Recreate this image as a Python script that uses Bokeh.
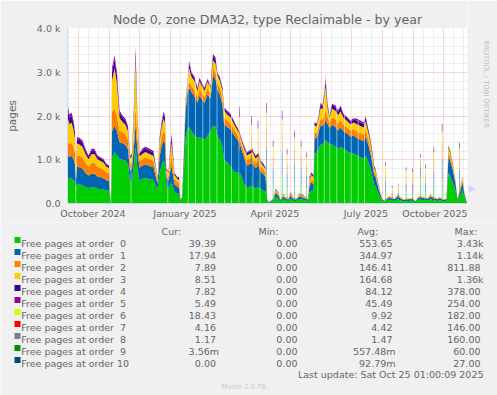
import datetime as dt
from math import pi
from bokeh.plotting import figure
from bokeh.layouts import column, row
from bokeh.models import ColumnDataSource, Range1d, FixedTicker, Label
from bokeh.embed import file_html
from bokeh.resources import INLINE

# ---------------- data ----------------
# sample positions: days after the start of the 400-day window
days = [0, 2, 4, 6, 7.5, 8.5, 9.5, 12, 15, 18, 21, 24, 27, 30, 33, 36, 39, 41.5, 42.5, 43.5,
        44.5, 47, 49.5, 52, 55, 58, 60.5, 62.5, 64.5, 66.5, 68, 70, 72, 75, 78, 82, 86, 88, 90, 92,
        94, 96, 97.5, 99, 101, 104, 107, 110, 111.5, 113, 114.5, 116.5, 118, 120, 121.5, 124, 127, 130, 132, 134,
        137, 140, 143, 145.5, 148, 150, 152.5, 155, 156.5, 159.5, 163, 165.5, 168, 171.5, 173, 176.5, 179.5, 182, 185, 188,
        191, 193, 196, 198, 199.5, 201, 203, 206, 208, 211, 213, 216, 218, 221, 223, 226, 229, 232, 235, 238,
        240.5, 242, 244, 246, 247, 249, 251, 253, 255, 257, 258, 260, 262, 264.5, 268, 270.5, 273, 276, 279.5, 283,
        286, 289.5, 293, 296, 298, 300, 301.5, 303, 305, 306.5, 308, 310, 311.5, 313, 315, 317, 321, 324, 327, 330,
        333, 336, 340, 345, 348, 351, 356, 360, 363, 366, 370, 372, 376, 379, 381, 383, 385.5, 388, 390, 393,
        395, 397, 399, 400]

order0 = [600, 560, 580, 540, 480, 300, 450, 440, 420, 380, 350, 380, 370, 340, 330, 320, 300, 300, 100, 200,
          1050, 1170, 1100, 1020, 1000, 980, 900, 500, 550, 900, 1300, 800, 520, 565, 580, 560, 540, 420, 320, 700,
          850, 980, 930, 370, 350, 500, 260, 230, 220, 60, 100, 800, 1500, 1700, 1750, 1650, 1550, 1500, 1520, 1500,
          1450, 1550, 1650, 1780, 1750, 1550, 1450, 1300, 1000, 950, 850, 750, 720, 700, 680, 450, 350, 380, 400, 350,
          380, 330, 300, 280, 60, 25, 35, 60, 150, 110, 50, 100, 70, 60, 110, 60, 60, 100, 90, 70,
          60, 250, 300, 280, 1150, 1150, 1250, 1350, 1350, 1400, 1450, 1400, 1350, 1350, 1300, 1250, 1300, 1250, 1200, 1150,
          1150, 1100, 1050, 1030, 1100, 1000, 900, 800, 600, 430, 400, 280, 200, 130, 60, 40, 90, 70, 60, 100,
          70, 50, 60, 65, 30, 90, 75, 65, 100, 75, 60, 75, 50, 65, 700, 600, 450, 300, 60, 200,
          300, 130, 30, 20]
order1 = [530, 500, 510, 470, 420, 250, 400, 390, 380, 320, 290, 300, 310, 280, 270, 260, 230, 220, 30, 60,
          600, 610, 550, 380, 380, 360, 340, 250, 260, 400, 500, 400, 300, 305, 310, 300, 290, 220, 140, 350,
          450, 460, 440, 200, 190, 350, 180, 150, 140, 20, 40, 350, 600, 850, 900, 900, 900, 800, 950, 900,
          850, 950, 750, 1140, 1100, 1050, 1030, 950, 830, 800, 850, 850, 800, 700, 640, 600, 520, 520, 520, 460,
          480, 400, 370, 330, 40, 10, 15, 30, 90, 70, 30, 60, 40, 30, 70, 35, 30, 60, 50, 40,
          30, 150, 180, 160, 350, 340, 380, 430, 420, 450, 450, 420, 380, 450, 450, 420, 440, 400, 400, 380,
          400, 400, 410, 400, 430, 400, 380, 340, 300, 230, 210, 150, 110, 70, 30, 20, 50, 45, 35, 60,
          45, 30, 35, 40, 20, 50, 45, 40, 60, 45, 35, 45, 30, 40, 400, 350, 300, 150, 35, 100,
          180, 70, 15, 10]
order2 = [310, 300, 300, 280, 260, 150, 250, 260, 250, 230, 200, 250, 250, 220, 210, 200, 180, 170, 10, 20,
          450, 390, 350, 260, 260, 250, 220, 150, 150, 300, 400, 300, 150, 150, 160, 150, 140, 120, 70, 180,
          220, 230, 220, 100, 95, 250, 120, 110, 100, 0, 10, 100, 100, 100, 150, 130, 150, 120, 150, 140,
          130, 140, 120, 150, 150, 150, 150, 150, 150, 150, 140, 130, 120, 110, 100, 110, 120, 130, 130, 120,
          120, 110, 100, 100, 20, 5, 5, 15, 40, 30, 10, 25, 20, 15, 30, 15, 15, 30, 25, 20,
          15, 70, 80, 70, 120, 120, 130, 150, 150, 200, 230, 160, 110, 170, 170, 160, 170, 150, 140, 140,
          150, 150, 150, 150, 160, 140, 130, 120, 100, 80, 70, 50, 40, 25, 10, 5, 20, 15, 15, 20,
          15, 10, 15, 15, 5, 20, 15, 15, 20, 15, 15, 15, 10, 15, 80, 100, 70, 40, 15, 50,
          60, 25, 5, 0]
order3 = [540, 450, 460, 400, 320, 150, 270, 260, 250, 200, 170, 200, 200, 170, 160, 160, 130, 120, 10, 20,
          700, 920, 750, 300, 230, 210, 200, 130, 120, 500, 1100, 380, 110, 115, 130, 120, 120, 80, 45, 170,
          220, 270, 260, 80, 75, 300, 90, 70, 80, 0, 10, 100, 100, 100, 300, 220, 200, 150, 180, 160,
          150, 150, 120, 200, 200, 170, 170, 170, 150, 140, 130, 130, 110, 100, 90, 100, 110, 110, 120, 105,
          105, 95, 90, 80, 20, 0, 5, 10, 35, 25, 10, 20, 15, 10, 30, 15, 10, 25, 20, 15,
          10, 80, 100, 90, 170, 150, 170, 250, 240, 400, 550, 220, 110, 200, 200, 190, 200, 160, 150, 140,
          150, 160, 160, 160, 190, 160, 140, 120, 100, 80, 70, 50, 40, 25, 10, 5, 15, 15, 10, 15,
          15, 10, 10, 10, 5, 15, 10, 10, 15, 10, 10, 10, 10, 10, 80, 80, 50, 30, 10, 30,
          40, 20, 0, 0]
order4 = [180, 150, 160, 150, 120, 60, 100, 100, 95, 80, 60, 80, 80, 60, 60, 55, 50, 40, 0, 0,
          200, 200, 170, 110, 95, 90, 75, 50, 50, 120, 190, 80, 50, 80, 80, 80, 70, 40, 18, 60,
          70, 100, 100, 35, 30, 130, 35, 30, 60, 0, 0, 30, 35, 35, 120, 70, 70, 55, 55, 50,
          50, 40, 40, 100, 100, 60, 55, 55, 50, 60, 55, 50, 50, 40, 30, 45, 50, 50, 55, 45,
          45, 35, 35, 30, 10, 0, 0, 5, 20, 10, 0, 10, 5, 5, 15, 5, 5, 10, 10, 5,
          5, 35, 40, 35, 50, 50, 50, 70, 65, 100, 120, 70, 35, 80, 85, 80, 90, 60, 60, 60,
          70, 85, 90, 80, 85, 65, 60, 50, 50, 35, 30, 20, 15, 10, 0, 0, 5, 5, 0, 5,
          5, 0, 0, 0, 0, 5, 5, 0, 5, 5, 0, 5, 0, 0, 40, 30, 20, 10, 0, 15,
          15, 5, 0, 0]
order5 = [80, 70, 70, 60, 50, 20, 50, 50, 45, 40, 30, 40, 40, 30, 30, 25, 20, 20, 0, 0,
          100, 93, 80, 56, 46, 45, 35, 20, 20, 50, 84, 40, 20, 45, 40, 40, 40, 20, 7, 40,
          40, 60, 50, 15, 10, 70, 15, 10, 20, 0, 0, 20, 15, 15, 50, 30, 30, 25, 25, 20,
          20, 20, 20, 50, 45, 20, 25, 25, 20, 26, 25, 25, 20, 18, 14, 21, 23, 21, 25, 17,
          20, 13, 12, 10, 0, 0, 0, 0, 5, 5, 0, 5, 0, 0, 5, 0, 0, 5, 5, 0,
          0, 15, 15, 15, 20, 20, 20, 30, 25, 50, 50, 30, 15, 30, 35, 30, 40, 30, 30, 30,
          30, 40, 40, 30, 35, 25, 20, 20, 20, 15, 10, 10, 5, 0, 0, 0, 0, 0, 0, 0,
          0, 0, 0, 0, 0, 0, 0, 0, 0, 0, 0, 0, 0, 0, 20, 10, 10, 0, 0, 5,
          5, 0, 0, 0]
# the tiny series: only the few samples where they show (day -> pages)
order6_at = {188: 40, 258: 50, 383: 70, 393: 30}
order7_at = {253: 20, 258: 30}
order8_at = {381: 20}
order9_at = {258: 5}
order10_at = {258: 3}

# one-column spikes, drawn pale
spike_days = [172, 184, 190.5, 199, 205.7, 214.7, 219.7, 227, 233.7, 239,
              318, 324.7, 331, 338.7, 345, 353, 358, 366.3, 374.7, 392]
spike_o0 = [660, 600, 570, 690, 430, 640, 375, 500, 430, 350, 285, 120, 135, 250, 240, 600, 270, 390, 545, 420]
spike_o1 = [550, 500, 475, 575, 360, 530, 310, 420, 360, 295, 240, 100, 110, 210, 200, 250, 225, 320, 455, 350]
spike_o2 = [440, 400, 380, 460, 290, 425, 250, 335, 290, 235, 190, 80, 90, 165, 160, 120, 180, 260, 365, 280]
spike_o3 = [330, 300, 285, 345, 215, 320, 190, 250, 215, 175, 140, 60, 70, 125, 120, 100, 135, 195, 275, 210]
spike_o4 = [154, 140, 133, 161, 101, 149, 88, 117, 101, 82, 67, 28, 32, 58, 56, 50, 63, 90, 127, 98]
spike_o5 = [66, 60, 57, 69, 44, 62, 37, 48, 44, 36, 28, 12, 13, 22, 24, 20, 27, 35, 53, 42]
# one-column drops (pale stripes through the areas)
dip_days = [8.3, 43.3, 63.5, 100.3, 120.7, 128, 135.3, 142.3, 149.5, 157, 164, 171.5, 178.5,
            185.5, 192.5, 250.3, 256.7, 262.3, 269.3, 277, 283.7, 290.7, 297]

series_names = ["Free pages at order \u00a00", "Free pages at order \u00a01", "Free pages at order \u00a02",
                "Free pages at order \u00a03", "Free pages at order \u00a04", "Free pages at order \u00a05",
                "Free pages at order \u00a06", "Free pages at order \u00a07", "Free pages at order \u00a08",
                "Free pages at order \u00a09", "Free pages at order 10"]
cur_vals = ["39.39", "17.94", "7.89", "8.51", "7.82", "5.49", "18.43", "4.16", "1.17", "3.56m", "0.00"]
min_vals = ["0.00", "0.00", "0.00", "0.00", "0.00", "0.00", "0.00", "0.00", "0.00", "0.00", "0.00"]
avg_vals = ["553.65", "344.97", "146.41", "164.68", "84.12", "45.49", "9.92", "4.42", "1.47", "557.48m", "92.79m"]
max_vals = ["3.43k", "1.14k", "811.88", "1.36k", "378.00", "254.00", "182.00", "146.00", "160.00", "60.00", "27.00"]

y_ticks = [0, 1000, 2000, 3000, 4000]
y_tick_labels = ["0.0", "1.0 k", "2.0 k", "3.0 k", "4.0 k"]
x_label_months = [(2024, 10), (2025, 1), (2025, 4), (2025, 7), (2025, 10)]
x_labels = ["October 2024", "January 2025", "April 2025", "July 2025", "October 2025"]

colors = ["#00CC00", "#0066B3", "#FF8000", "#FFCC00", "#330099", "#990099",
          "#CCFF00", "#FF0000", "#808080", "#008F00", "#00487D"]

# ---------------- helpers ----------------
EPOCH = dt.datetime(1970, 1, 1)
START = dt.datetime(2024, 9, 20, 1, 0, 9)
DAY = 86400000
BG = "#F0F0F0"
TXT = "#666666"
AXC = "#CFD6F8"
FONT = "DejaVu Sans"


def to_ms(t):
    return int((t - EPOCH).total_seconds() * 1000)


def day_ms(d):
    return to_ms(START) + d * DAY


def sparse(at):
    return [at.get(d, 0) for d in days]


data = dict(x=[day_ms(d) for d in days], o0=order0, o1=order1, o2=order2, o3=order3,
            o4=order4, o5=order5, o6=sparse(order6_at), o7=sparse(order7_at),
            o8=sparse(order8_at), o9=sparse(order9_at), o10=sparse(order10_at))
src = ColumnDataSource(data)
stack_names = ["o%d" % i for i in range(11)]

spike_src = ColumnDataSource(dict(x=[day_ms(d) for d in spike_days], s0=spike_o0, s1=spike_o1,
                                  s2=spike_o2, s3=spike_o3, s4=spike_o4, s5=spike_o5))

# ---------------- main chart (page x 0..467, y 0..222; frame 67..467 x 28..203) ----------------
p = figure(width=467, height=222, output_backend="svg", toolbar_location=None,
           x_range=Range1d(day_ms(0), day_ms(400)), y_range=Range1d(0, 4000),
           min_border_left=67, min_border_right=0, min_border_top=28, min_border_bottom=19)
p.background_fill_color = "white"
p.border_fill_color = BG
p.outline_line_color = None

p.varea_stack(stackers=stack_names, x="x", color=colors, source=src)
p.vbar(x=[day_ms(d) for d in dip_days], top=3500, bottom=0, width=DAY,
       fill_color="white", fill_alpha=0.5, line_color=None)
p.vbar_stack(stackers=["s0", "s1", "s2", "s3", "s4", "s5"], x="x", width=DAY,
             fill_color=colors[:6], fill_alpha=0.5, line_color=None, source=spike_src)

# grids: red dotted at month starts / every 1000, grey dotted minor
month_starts = []
minor_x = []
y_, m_ = 2024, 9
while (y_, m_) <= (2025, 10):
    for dd in (1, 11, 21):
        t = to_ms(dt.datetime(y_, m_, dd))
        if day_ms(0) < t < day_ms(400):
            (month_starts if dd == 1 else minor_x).append(t)
    m_ += 1
    if m_ > 12:
        y_, m_ = y_ + 1, 1

p.xgrid.ticker = FixedTicker(ticks=month_starts, minor_ticks=minor_x)
p.ygrid.ticker = FixedTicker(ticks=[1000, 2000, 3000, 4000],
                             minor_ticks=[v for v in range(200, 4000, 200) if v % 1000])
for g in (p.xgrid, p.ygrid):
    g.grid_line_color = "#F2A8A8"
    g.grid_line_dash = "1 1"
    g.grid_line_width = 1
    g.minor_grid_line_color = "#DCDCDC"
    g.minor_grid_line_dash = "1 1"
    g.minor_grid_line_width = 1

# axes
x_label_ticks = [int(to_ms(dt.datetime(yy, mm, 1)) + 14.5 * DAY) for yy, mm in x_label_months]
p.xaxis.ticker = FixedTicker(ticks=x_label_ticks)
p.xaxis.major_label_overrides = dict(zip(x_label_ticks, x_labels))
p.yaxis.ticker = FixedTicker(ticks=y_ticks)
p.yaxis.major_label_overrides = dict(zip(y_ticks, y_tick_labels))
for ax in (p.xaxis, p.yaxis):
    ax.axis_line_color = AXC
    ax.major_tick_line_color = None
    ax.minor_tick_line_color = None
    ax.major_tick_out = 0
    ax.major_tick_in = 0
    ax.major_label_text_font = FONT
    ax.major_label_text_font_size = "9.5px"
    ax.major_label_text_color = TXT
p.yaxis.major_label_standoff = 7
p.xaxis.major_label_standoff = 4
p.yaxis.axis_label = "pages"
p.yaxis.axis_label_text_font = FONT
p.yaxis.axis_label_text_font_size = "10.5px"
p.yaxis.axis_label_text_font_style = "normal"
p.yaxis.axis_label_text_color = TXT
p.yaxis.axis_label_standoff = 16

p.title.text = "Node 0, zone DMA32, type Reclaimable - by year"
p.title.align = "center"
p.title.offset = -19
p.title.standoff = 3
p.title.text_font = FONT
p.title.text_font_size = "12.6px"
p.title.text_font_style = "normal"
p.title.text_color = TXT

# ---------------- right strip (page x 467..497, y 0..222) ----------------
r = figure(width=30, height=222, output_backend="svg", toolbar_location=None,
           x_range=Range1d(467, 497), y_range=Range1d(222, 0),
           min_border=0, x_axis_location=None, y_axis_location=None)
r.grid.visible = False
r.background_fill_color = BG
r.border_fill_color = BG
r.outline_line_color = None
r.segment(x0=[467], y0=[203.5], x1=[470], y1=[203.5], line_color=AXC, line_width=1)
r.scatter(x=[470.5], y=[203.5], marker="triangle", angle=-pi / 2, size=6,
          fill_color=AXC, line_color=AXC)
r.add_layout(Label(x=485, y=15, text="RRDTOOL / TOBI OETIKER", text_font=FONT,
                   text_font_size="6.8px", text_color="#BBBBBB", text_align="left",
                   text_baseline="alphabetic", angle=-pi / 2))

# ---------------- legend block (page x 0..497, y 222..395) ----------------
lg = figure(width=497, height=173, output_backend="svg", toolbar_location=None,
            x_range=Range1d(0, 497), y_range=Range1d(395, 222),
            min_border=0, x_axis_location=None, y_axis_location=None)
lg.grid.visible = False
lg.background_fill_color = BG
lg.border_fill_color = BG
lg.outline_line_color = None


def lab(text, rx, ry, size="9.5px", color=TXT, align="left"):
    lg.add_layout(Label(x=rx, y=ry, text=text, text_font=FONT, text_font_size=size,
                        text_color=color, text_align=align, text_baseline="alphabetic"))


lab("Cur:", 161, 230.8)
lab("Min:", 258, 230.8)
lab("Avg:", 357, 230.8)
lab("Max:", 454, 230.8)

NB = "\u00a0"


def pad(v):
    return v if v[-1] in "kmM" else v + NB


row_base = [242.8 + 12 * i for i in range(11)]
lg.rect(x=[17] * 11, y=[b - 3.3 for b in row_base], width=6, height=6,
        fill_color=colors, line_color=None)
for i in range(11):
    by = row_base[i]
    lab(series_names[i], 20.7, by)
    lab(pad(cur_vals[i]), 218.5, by, align="right")
    lab(pad(min_vals[i]), 300, by, align="right")
    lab(pad(avg_vals[i]), 395, by, align="right")
    lab(pad(max_vals[i]), 483, by, align="right")

lab("Last update: Sat Oct 25 01:00:09 2025", 483, 374, align="right")
lab("Munin 2.0.76", 243, 386.7, size="6.8px", color="#C8C8C8", align="center")

page = column(row(p, r), lg)
open("out.html", "w").write(file_html(page, INLINE))
